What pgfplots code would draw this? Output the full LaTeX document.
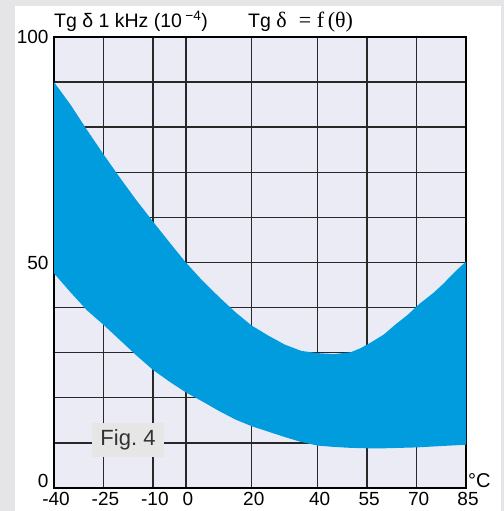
\documentclass[border=0pt]{standalone}
\usepackage{pgfplots}
\pgfplotsset{compat=1.18}
\usepackage{fontspec}
\setmainfont{Liberation Sans}
\newfontfamily\serifg{Liberation Serif}
\definecolor{band}{RGB}{0,156,222}
\definecolor{plotbg}{RGB}{235,235,246}
\definecolor{outer}{RGB}{229,229,231}
\definecolor{gridc}{RGB}{40,40,40}
\definecolor{figbox}{RGB}{230,230,230}
\definecolor{figtxt}{RGB}{50,50,50}
\begin{document}
\begin{tikzpicture}[x=1bp,y=1bp]
\fill[outer] (0,0) rectangle (504,511);
\fill[white] (15,0) rectangle (501,505);
\begin{axis}[
  scale only axis,
  width=412bp, height=451bp,
  at={(54bp,23bp)}, anchor=south west,
  xmin=-40, xmax=85, ymin=0, ymax=100,
  xtick={-40,-25,-10,0,20,40,55,70,85},
  xticklabels={-40,-25,-10,0,20,40,55,70,85},
  ytick={0,10,20,30,40,50,60,70,80,90,100},
  yticklabels={,,,,,50,,,,,100},
  extra y ticks={0},
  extra y tick labels={0},
  extra y tick style={grid=none, yticklabel style={anchor=base east, yshift=0bp}},
  major tick length=0pt,
  grid=major,
  major grid style={gridc, line width=1.4bp},
  axis line style={black, line width=2.8bp},
  axis background/.style={fill=plotbg},
  tick label style={font=\fontsize{19bp}{21bp}\selectfont},
  xticklabel style={yshift=-1bp, xshift=2bp},
  yticklabel style={xshift=-2bp},
]
\addplot[fill=band, draw=none] coordinates {
  (-40,90) (-35,85) (-30,79.4) (-25,74) (-20,68.8) (-15,63.8) (-10,59.1) (-5,54.5)
  (0,50) (5,46) (10,42.4) (15,39) (20,36) (25,33.8) (30,31.8) (35,30.4) (40,29.9)
  (45,29.7) (50,30.1) (53,31) (56,32.2) (60,34) (64,36.5) (67,38.2) (71,40.9)
  (75,43.2) (78,45.2) (82,48.2) (85,50.2)
  (85,9.6) (80,9.4) (75,9.2) (70,9.0) (65,8.9) (60,8.8) (55,8.8) (50,8.9) (45,9.1)
  (40,9.4) (35,10.2) (30,11.3) (25,12.5) (20,13.7) (15,15.2) (10,17.1) (5,19.2)
  (0,21.2) (-5,23.6) (-10,26.2) (-15,29.4) (-20,32.8) (-25,36.2) (-30,39.4)
  (-35,43.4) (-40,47.6)
} -- cycle;
\end{axis}
\node[anchor=base west, inner sep=0pt, font=\fontsize{19.5bp}{21bp}\selectfont] at (54,483)
  {Tg\;δ\;1\;kHz\;(10\,\textsuperscript{−4})};
\node[anchor=base west, inner sep=0pt, font=\fontsize{19.5bp}{21bp}\selectfont] at (248,483)
  {Tg\;{\serifg\fontsize{22bp}{24bp}\selectfont δ\;\;= f\,(θ)}};
\node[anchor=base west, inner sep=0pt, font=\fontsize{20bp}{22bp}\selectfont] at (468,23) {°C};
\node[fill=figbox, text=figtxt, minimum width=72bp, minimum height=34bp, inner sep=0pt,
  font=\fontsize{22bp}{24bp}\selectfont] at (128,71) {Fig.\;4};
\pgfresetboundingbox
\path (0,0) rectangle (504,511);
\end{tikzpicture}
\end{document}
